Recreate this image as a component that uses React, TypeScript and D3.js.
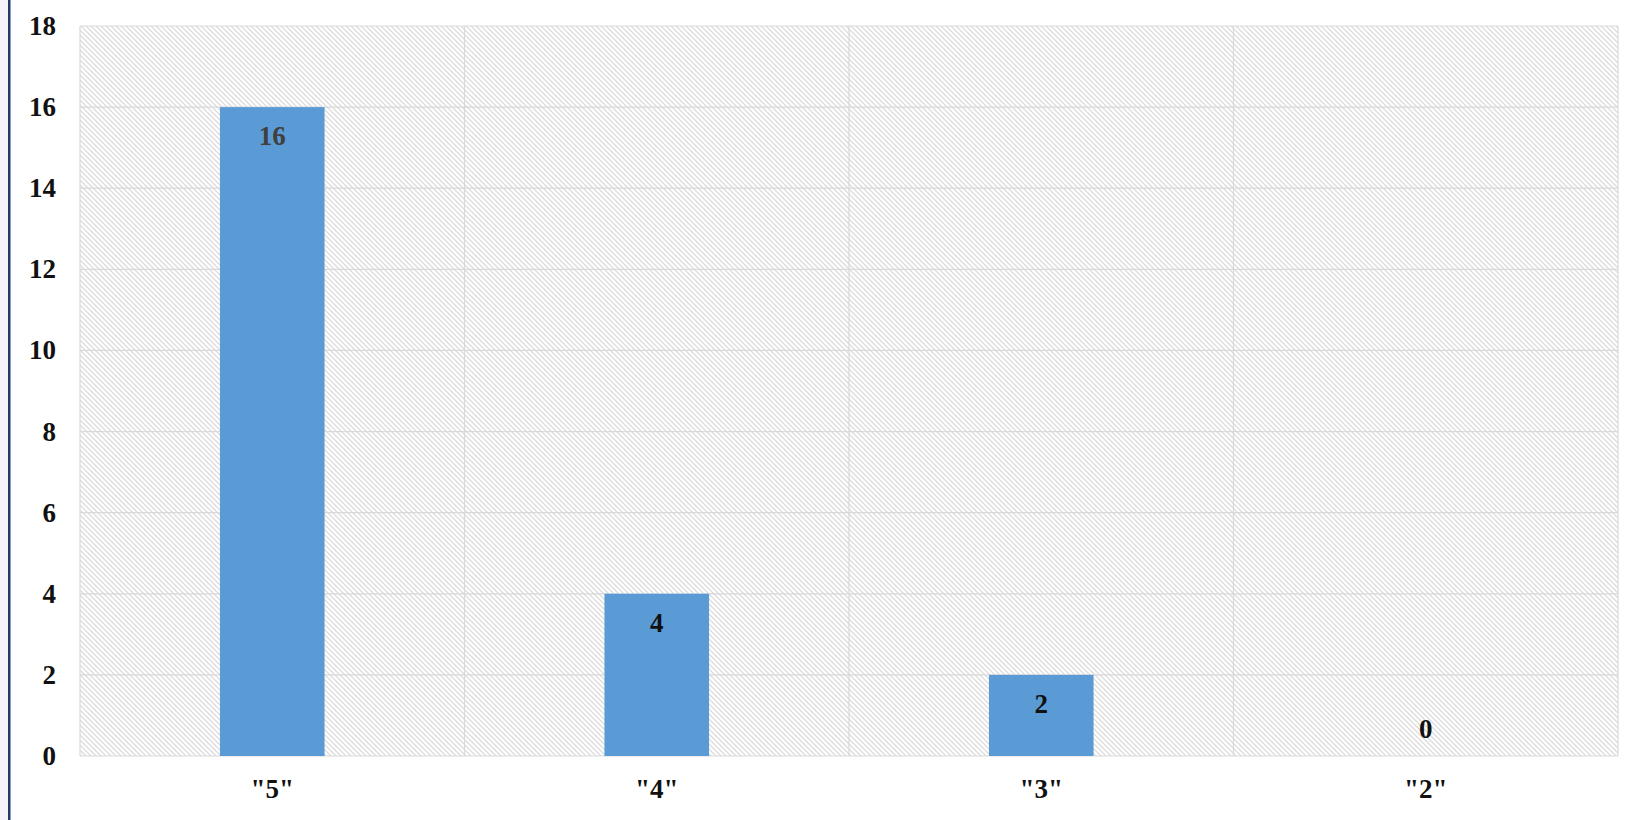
import React from "react";
import * as d3 from "d3";

const categories = ['"5"', '"4"', '"3"', '"2"'];
const values = [16, 4, 2, 0];
const yTicks = [0, 2, 4, 6, 8, 10, 12, 14, 16, 18];

const W = 1634;
const H = 820;
const plot = { left: 80, right: 1618, top: 26, bottom: 756 };

export default function App() {
  const x = d3
    .scaleBand<string>()
    .domain(categories)
    .range([plot.left, plot.right])
    .paddingInner(0)
    .paddingOuter(0);
  const y = d3.scaleLinear().domain([0, 18]).range([plot.bottom, plot.top]);
  const barW = x.bandwidth() * 0.272;
  const font = "'Liberation Serif', 'Times New Roman', serif";

  return (
    <div style={{ position: "absolute", left: 0, top: 0 }}>
      <svg width={W} height={H} style={{ display: "block" }}>
        <defs>
          <pattern id="hatch" width={5} height={5} patternUnits="userSpaceOnUse">
            <rect width={5} height={5} fill="#ffffff" />
            <path d="M-1,-1 L6,6 M-1,4 L1,6 M4,-1 L6,1" stroke="#dcdcdc" strokeWidth={1.3} />
          </pattern>
        </defs>
        <rect x={0} y={0} width={W} height={H} fill="#ffffff" />
        <rect x={0} y={0} width={8} height={H} fill="#f6f2fc" />
        <rect x={8} y={0} width={2.5} height={H} fill="#1f3a6b" />

        <rect
          x={plot.left}
          y={plot.top}
          width={plot.right - plot.left}
          height={plot.bottom - plot.top}
          fill="url(#hatch)"
        />
        {yTicks.map((t) => (
          <line
            key={"h" + t}
            x1={plot.left}
            x2={plot.right}
            y1={y(t)}
            y2={y(t)}
            stroke="#d9d9d9"
            strokeWidth={1.2}
          />
        ))}
        {categories.map((c) => (
          <line
            key={"v" + c}
            x1={x(c)!}
            x2={x(c)!}
            y1={plot.top}
            y2={plot.bottom}
            stroke="#d9d9d9"
            strokeWidth={1.2}
          />
        ))}
        <line x1={plot.right} x2={plot.right} y1={plot.top} y2={plot.bottom} stroke="#d9d9d9" strokeWidth={1.2} />

        {categories.map((c, i) => {
          const cx = x(c)! + x.bandwidth() / 2;
          return (
            <rect
              key={"b" + c}
              x={cx - barW / 2}
              y={y(values[i])}
              width={barW}
              height={y(0) - y(values[i])}
              fill="#5b9bd5"
            />
          );
        })}

        {categories.map((c, i) => {
          const cx = x(c)! + x.bandwidth() / 2;
          const v = values[i];
          const by = v > 0 ? y(v) + 38 : y(0) - 18;
          return (
            <text
              key={"l" + c}
              x={cx}
              y={by}
              textAnchor="middle"
              fontFamily={font}
              fontWeight="bold"
              fontSize={27}
              fill={i === 0 ? "#404040" : "#111111"}
            >
              {v}
            </text>
          );
        })}

        {yTicks.map((t) => (
          <text
            key={"yt" + t}
            x={56}
            y={y(t) + 9}
            textAnchor="end"
            fontFamily={font}
            fontWeight="bold"
            fontSize={27}
            fill="#111111"
          >
            {t}
          </text>
        ))}

        {categories.map((c) => (
          <text
            key={"xt" + c}
            x={x(c)! + x.bandwidth() / 2}
            y={798}
            textAnchor="middle"
            fontFamily={font}
            fontWeight="bold"
            fontSize={27}
            fill="#111111"
          >
            {c}
          </text>
        ))}
      </svg>
    </div>
  );
}
